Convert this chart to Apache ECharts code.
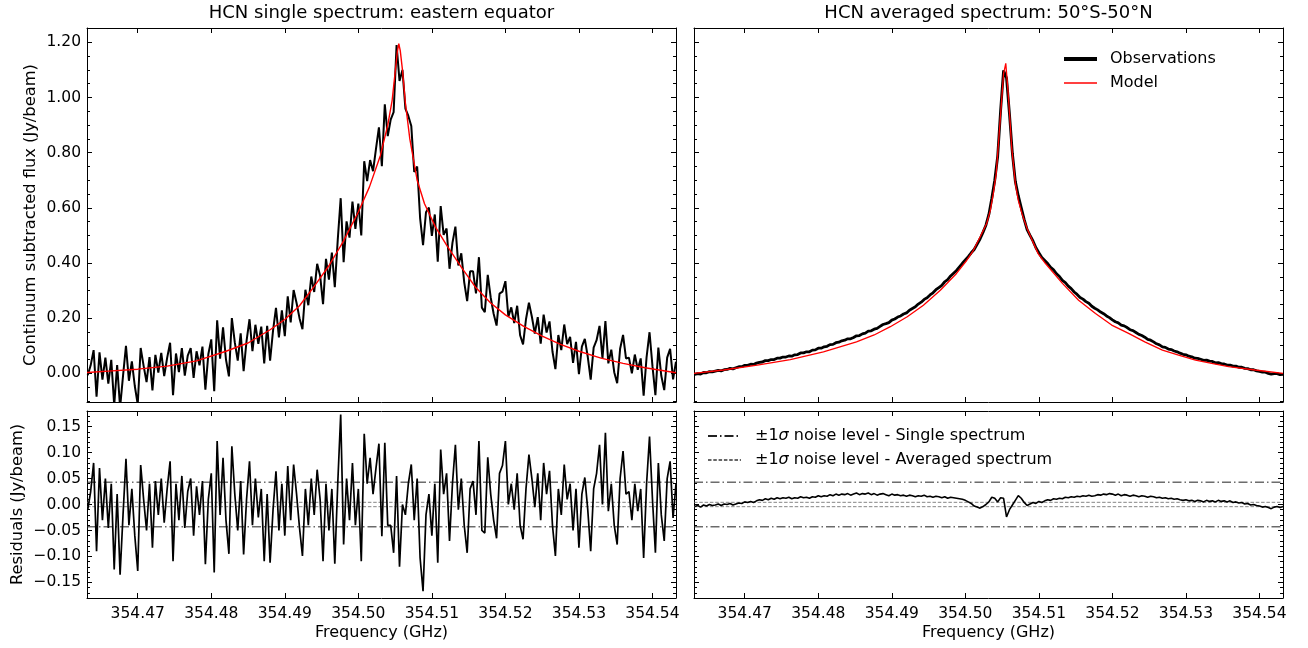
<!DOCTYPE html>
<html>
<head>
<meta charset="utf-8">
<title>HCN spectra</title>
<script src="https://cdn.jsdelivr.net/npm/echarts@6/dist/echarts.min.js"></script>
<style>
  html, body { margin: 0; padding: 0; background: #fff; }
  #chart { width: 1308px; height: 648px; }
</style>
</head>
<body>
<div id="chart"></div>
<script>
// channel grid of the spectra (GHz)
var freqStart = 354.4632;
var freqStep = 0.0004;
var freqMin = 354.4631, freqMax = 354.5432;

// single spectrum, eastern equator (Jy/beam), one value per channel
var singleObs = [
  -0.007, 0.029, 0.084, -0.085, 0.076, -0.023, 0.057, -0.037, 0.049, -0.116,
  0.030, -0.124, -0.009, 0.100, -0.027, 0.043, -0.046, -0.113, 0.092, 0.027,
  -0.032, 0.059, -0.062, 0.067, 0.003, 0.074, -0.010, 0.056, 0.111, -0.079,
  0.072, 0.004, 0.091, -0.008, 0.064, 0.091, -0.017, 0.080, 0.029, 0.097,
  -0.059, 0.069, 0.123, -0.065, 0.192, 0.053, 0.167, 0.050, -0.011, 0.200,
  0.112, 0.046, 0.145, 0.008, 0.118, 0.196, 0.080, 0.176, 0.107, 0.169,
  0.036, 0.172, 0.046, 0.155, 0.237, 0.130, 0.228, 0.135, 0.279, 0.185,
  0.302, 0.255, 0.200, 0.160, 0.303, 0.247, 0.351, 0.295, 0.397, 0.355,
  0.251, 0.415, 0.340, 0.438, 0.312, 0.484, 0.635, 0.403, 0.551, 0.492,
  0.623, 0.524, 0.615, 0.500, 0.769, 0.697, 0.773, 0.733, 0.814, 0.892,
  0.751, 0.975, 0.860, 0.920, 0.947, 1.190, 1.060, 1.100, 0.960, 0.933,
  0.897, 0.730, 0.750, 0.563, 0.465, 0.584, 0.601, 0.498, 0.576, 0.405,
  0.606, 0.502, 0.525, 0.379, 0.473, 0.532, 0.391, 0.435, 0.330, 0.262,
  0.370, 0.370, 0.290, 0.421, 0.238, 0.222, 0.357, 0.275, 0.216, 0.173,
  0.289, 0.296, 0.334, 0.205, 0.239, 0.182, 0.245, 0.138, 0.105, 0.196,
  0.256, 0.205, 0.144, 0.204, 0.108, 0.213, 0.148, 0.188, 0.079, 0.015,
  0.139, 0.084, 0.177, 0.106, 0.132, 0.038, 0.114, -0.003, 0.097, 0.125,
  0.060, -0.023, 0.093, 0.120, 0.172, 0.054, 0.189, 0.036, 0.086, 0.004,
  -0.036, 0.089, 0.139, 0.054, 0.057, 0.000, 0.068, 0.013, 0.054, -0.081,
  0.059, 0.149, 0.026, -0.079, 0.093, -0.009, -0.061, 0.057, 0.089, -0.022,
  0.042
];
var singleResid = [
  -0.010, 0.025, 0.080, -0.090, 0.070, -0.030, 0.050, -0.045, 0.040, -0.125,
  0.020, -0.135, -0.020, 0.088, -0.040, 0.030, -0.060, -0.128, 0.076, 0.010,
  -0.050, 0.040, -0.083, 0.045, -0.020, 0.050, -0.035, 0.030, 0.083, -0.109,
  0.040, -0.030, 0.055, -0.045, 0.025, 0.050, -0.060, 0.035, -0.020, 0.045,
  -0.115, 0.010, 0.060, -0.131, 0.122, -0.020, 0.090, -0.030, -0.095, 0.112,
  0.020, -0.050, 0.045, -0.096, 0.010, 0.083, -0.040, 0.050, -0.025, 0.030,
  -0.109, 0.020, -0.112, -0.010, 0.064, -0.050, 0.040, -0.060, 0.074, -0.030,
  0.077, 0.020, -0.045, -0.099, 0.030, -0.040, 0.050, -0.020, 0.067, 0.010,
  -0.109, 0.040, -0.050, 0.030, -0.114, 0.040, 0.173, -0.077, 0.050, -0.030,
  0.080, -0.040, 0.030, -0.109, 0.136, 0.040, 0.090, 0.020, 0.070, 0.117,
  -0.061, 0.119, -0.040, -0.040, -0.093, 0.055, -0.120, 0.000, -0.020, 0.040,
  0.077, -0.030, 0.050, -0.103, -0.167, -0.020, 0.020, -0.060, 0.040, -0.112,
  0.106, 0.020, 0.060, -0.070, 0.040, 0.115, -0.010, 0.050, -0.040, -0.093,
  0.030, 0.045, -0.020, 0.122, -0.050, -0.055, 0.091, 0.020, -0.030, -0.065,
  0.060, 0.075, 0.122, 0.000, 0.040, -0.010, 0.060, -0.040, -0.067, 0.030,
  0.096, 0.050, -0.005, 0.060, -0.030, 0.080, 0.020, 0.065, -0.040, -0.099,
  0.030, -0.020, 0.077, 0.010, 0.040, -0.050, 0.030, -0.083, 0.020, 0.052,
  -0.010, -0.090, 0.030, 0.060, 0.115, 0.000, 0.138, -0.013, 0.040, -0.040,
  -0.077, 0.050, 0.103, 0.020, 0.025, -0.030, 0.040, -0.013, 0.030, -0.103,
  0.040, 0.131, 0.010, -0.093, 0.080, -0.020, -0.070, 0.050, 0.083, -0.026,
  0.040
];

// averaged spectrum 50S-50N, one value per channel
var avgObs = [
  -0.004, -0.001, -0.003, 0.003, 0.002, 0.006, 0.005, 0.008, 0.011, 0.009,
  0.013, 0.014, 0.018, 0.016, 0.020, 0.024, 0.024, 0.029, 0.029, 0.033,
  0.032, 0.037, 0.040, 0.041, 0.046, 0.046, 0.050, 0.050, 0.055, 0.055,
  0.059, 0.059, 0.063, 0.062, 0.067, 0.068, 0.074, 0.074, 0.078, 0.078,
  0.084, 0.085, 0.091, 0.091, 0.096, 0.098, 0.104, 0.105, 0.111, 0.113,
  0.118, 0.120, 0.125, 0.125, 0.130, 0.136, 0.137, 0.143, 0.146, 0.153,
  0.154, 0.160, 0.163, 0.170, 0.177, 0.180, 0.184, 0.193, 0.197, 0.204,
  0.208, 0.215, 0.219, 0.229, 0.235, 0.241, 0.251, 0.258, 0.268, 0.274,
  0.284, 0.292, 0.303, 0.311, 0.319, 0.332, 0.340, 0.353, 0.363, 0.373,
  0.386, 0.399, 0.411, 0.423, 0.437, 0.449, 0.468, 0.487, 0.511, 0.537,
  0.576, 0.635, 0.700, 0.787, 0.954, 1.098, 1.071, 0.941, 0.797, 0.696,
  0.644, 0.601, 0.558, 0.521, 0.500, 0.480, 0.455, 0.437, 0.420, 0.409,
  0.398, 0.384, 0.375, 0.361, 0.351, 0.337, 0.329, 0.316, 0.307, 0.295,
  0.286, 0.275, 0.269, 0.260, 0.254, 0.243, 0.236, 0.230, 0.222, 0.216,
  0.208, 0.202, 0.194, 0.187, 0.183, 0.175, 0.172, 0.166, 0.158, 0.155,
  0.148, 0.141, 0.137, 0.131, 0.123, 0.120, 0.114, 0.107, 0.103, 0.096,
  0.094, 0.088, 0.086, 0.081, 0.078, 0.073, 0.069, 0.067, 0.062, 0.060,
  0.055, 0.054, 0.051, 0.047, 0.048, 0.044, 0.043, 0.038, 0.039, 0.035,
  0.034, 0.030, 0.030, 0.026, 0.026, 0.022, 0.022, 0.018, 0.017, 0.013,
  0.013, 0.009, 0.007, 0.004, 0.004, 0.000, -0.003, -0.001, -0.001, -0.005,
  -0.004
];
var avgResid = [
  -0.004, -0.002, -0.005, -0.001, -0.003, 0.000, -0.002, -0.001, 0.001, -0.002,
  0.001, 0.000, 0.002, -0.001, 0.001, 0.003, 0.002, 0.005, 0.004, 0.006,
  0.004, 0.007, 0.009, 0.008, 0.011, 0.009, 0.012, 0.010, 0.013, 0.011,
  0.013, 0.012, 0.014, 0.011, 0.013, 0.012, 0.015, 0.013, 0.014, 0.012,
  0.015, 0.014, 0.017, 0.015, 0.017, 0.016, 0.019, 0.017, 0.020, 0.018,
  0.020, 0.019, 0.021, 0.018, 0.020, 0.022, 0.019, 0.021, 0.020, 0.022,
  0.019, 0.021, 0.018, 0.020, 0.021, 0.019, 0.017, 0.020, 0.018, 0.019,
  0.017, 0.018, 0.016, 0.018, 0.017, 0.015, 0.017, 0.016, 0.018, 0.015,
  0.016, 0.014, 0.016, 0.015, 0.013, 0.015, 0.012, 0.014, 0.013, 0.012,
  0.011, 0.010, 0.008, 0.005, 0.002, -0.003, -0.005, -0.007, -0.004, 0.000,
  0.005, 0.014, 0.012, 0.005, 0.013, 0.012, -0.024, -0.010, -0.001, 0.008,
  0.017, 0.012, 0.004, -0.002, 0.001, 0.004, 0.002, 0.006, 0.004, 0.007,
  0.009, 0.008, 0.011, 0.010, 0.012, 0.011, 0.014, 0.013, 0.015, 0.014,
  0.016, 0.015, 0.017, 0.016, 0.018, 0.016, 0.017, 0.019, 0.018, 0.020,
  0.019, 0.021, 0.020, 0.018, 0.020, 0.017, 0.019, 0.018, 0.016, 0.018,
  0.017, 0.015, 0.017, 0.016, 0.014, 0.016, 0.015, 0.013, 0.014, 0.012,
  0.013, 0.011, 0.012, 0.010, 0.011, 0.009, 0.008, 0.009, 0.007, 0.008,
  0.006, 0.008, 0.007, 0.005, 0.008, 0.006, 0.007, 0.005, 0.008, 0.006,
  0.007, 0.005, 0.007, 0.004, 0.005, 0.003, 0.004, 0.001, 0.002, -0.001,
  0.000, -0.002, -0.003, -0.005, -0.004, -0.006, -0.008, -0.005, -0.004, -0.006,
  -0.004
];

// model curves, sampled where they were read
var singleModelFreq = [
  354.4631, 354.4660, 354.4700, 354.4740, 354.4780, 354.4820, 354.4850, 354.4880,
  354.4900, 354.4920, 354.4940, 354.4960, 354.4980, 354.5000, 354.5015, 354.5030,
  354.5040, 354.5046, 354.5050, 354.5053, 354.5055, 354.5057, 354.5060, 354.5064,
  354.5070, 354.5080, 354.5090, 354.5105, 354.5120, 354.5140, 354.5160, 354.5180,
  354.5200, 354.5225, 354.5250, 354.5275, 354.5300, 354.5330, 354.5360, 354.5390,
  354.5432
];
var singleModel = [
  0.003, 0.008, 0.015, 0.026, 0.045, 0.080, 0.110, 0.158,
  0.195, 0.245, 0.315, 0.390, 0.480, 0.585, 0.675, 0.790,
  0.900, 0.990, 1.090, 1.165, 1.195, 1.170, 1.100, 0.980,
  0.850, 0.700, 0.615, 0.530, 0.465, 0.385, 0.310, 0.255,
  0.212, 0.170, 0.135, 0.105, 0.080, 0.055, 0.036, 0.020,
  0.002
];
var avgModelFreq = [
  354.4631, 354.4671, 354.4717, 354.4762, 354.4807, 354.4852, 354.4876, 354.4898,
  354.4921, 354.4943, 354.4966, 354.4988, 354.5002, 354.5011, 354.5020, 354.5029,
  354.5034, 354.5038, 354.5042, 354.5047, 354.5052, 354.5055, 354.5058, 354.5061,
  354.5063, 354.5068, 354.5072, 354.5077, 354.5084, 354.5091, 354.5099, 354.5109,
  354.5132, 354.5154, 354.5177, 354.5199, 354.5222, 354.5244, 354.5268, 354.5290,
  354.5313, 354.5335, 354.5358, 354.5394, 354.5432
];
var avgModel = [
  0.000, 0.012, 0.030, 0.050, 0.078, 0.114, 0.139, 0.169,
  0.205, 0.247, 0.301, 0.362, 0.410, 0.446, 0.494, 0.543,
  0.591, 0.651, 0.724, 0.905, 1.086, 1.124, 1.025, 0.905,
  0.820, 0.688, 0.627, 0.579, 0.525, 0.482, 0.434, 0.398,
  0.326, 0.265, 0.217, 0.175, 0.145, 0.114, 0.084, 0.066,
  0.048, 0.036, 0.024, 0.012, 0.000
];

// 1 sigma noise levels
var sigmaSingle = 0.043;
var sigmaAvg = 0.0042;

// ticks
var freqTicks = [354.47, 354.48, 354.49, 354.50, 354.51, 354.52, 354.53, 354.54];
var fluxTicks = [0, 0.2, 0.4, 0.6, 0.8, 1.0, 1.2];
var fluxMinorTicks = [-0.10, -0.05, 0.05, 0.10, 0.15, 0.25, 0.30, 0.35, 0.45, 0.50, 0.55,
  0.65, 0.70, 0.75, 0.85, 0.90, 0.95, 1.05, 1.10, 1.15, 1.25];
var residTicks = [-0.15, -0.10, -0.05, 0, 0.05, 0.10, 0.15];
var residMinorTicks = [];
for (var k = -17; k <= 17; k++) {
  if (k % 5 !== 0) residMinorTicks.push(k / 100);
}

var nameSingle = '±1σ noise level - Single spectrum';
var nameAvg = '±1σ noise level - Averaged spectrum';
var FONT = 'DejaVu Sans';

function channels(values) {
  return values.map(function (v, i) { return [freqStart + i * freqStep, v]; });
}
function pairs(freqs, values) {
  return freqs.map(function (f, i) { return [f, values[i]]; });
}
function fmt(v) {
  return (v < -1e-9 ? '\u2212' : '') + Math.abs(v).toFixed(2);
}

var myChart = echarts.init(document.getElementById('chart'), null, { renderer: 'canvas' });

// 0: top left, 1: bottom left, 2: top right, 3: bottom right
var grids = [
  { left: 87, top: 28, width: 589, height: 374 },
  { left: 87, top: 411, width: 589, height: 187 },
  { left: 694, top: 28, width: 589, height: 374 },
  { left: 694, top: 411, width: 589, height: 187 }
];

var xAxes = [];
var yAxes = [];
grids.forEach(function (g, gi) {
  var isBottom = (gi === 1 || gi === 3);
  var isLeft = (gi === 0 || gi === 1);
  var ymin = isBottom ? -0.18 : -0.104;
  var ymax = isBottom ? 0.18 : 1.252;
  var major = isBottom ? residTicks : fluxTicks;
  var minor = isBottom ? residMinorTicks : fluxMinorTicks;
  ['bottom', 'top'].forEach(function (pos) {
    xAxes.push({
      type: 'value', gridIndex: gi, position: pos, min: freqMin, max: freqMax,
      axisLine: { show: true, onZero: false, lineStyle: { color: '#000', width: 1 } },
      axisTick: { show: true, inside: true, length: 5, customValues: freqTicks, lineStyle: { color: '#000' } },
      axisLabel: {
        show: isBottom && pos === 'bottom', customValues: freqTicks, margin: 8,
        formatter: function (v) { return v.toFixed(2); },
        color: '#000', fontSize: 15.5, fontFamily: FONT
      },
      splitLine: { show: false },
      name: (isBottom && pos === 'bottom') ? 'Frequency (GHz)' : '',
      nameLocation: 'middle', nameGap: 27,
      nameTextStyle: { color: '#000', fontSize: 16, fontFamily: FONT }
    });
  });
  ['left', 'right'].forEach(function (pos) {
    var showLab = isLeft && pos === 'left';
    yAxes.push({
      type: 'value', gridIndex: gi, position: pos, min: ymin, max: ymax,
      axisLine: { show: true, onZero: false, lineStyle: { color: '#000', width: 1 } },
      axisTick: { show: true, inside: true, length: 5, customValues: major, lineStyle: { color: '#000' } },
      axisLabel: {
        show: showLab, customValues: major, margin: 6, formatter: fmt,
        color: '#000', fontSize: 15.5, fontFamily: FONT
      },
      splitLine: { show: false },
      name: showLab ? (isBottom ? 'Residuals (Jy/beam)' : 'Continuum subtracted flux (Jy/beam)') : '',
      nameLocation: 'middle', nameGap: isBottom ? 61 : 48,
      nameTextStyle: { color: '#000', fontSize: 16.3, fontFamily: FONT }
    });
    yAxes.push({
      type: 'value', gridIndex: gi, position: pos, min: ymin, max: ymax,
      axisLine: { show: false },
      axisTick: { show: true, inside: true, length: 3, customValues: minor, lineStyle: { color: '#000' } },
      axisLabel: { show: false },
      splitLine: { show: false }
    });
  });
});

function lineSeries(name, gi, data, color, width, z) {
  return {
    name: name, type: 'line', xAxisIndex: gi * 2, yAxisIndex: gi * 4,
    data: data, symbol: 'none', showSymbol: false, clip: true, z: z || 2,
    lineStyle: { color: color, width: width },
    itemStyle: { color: color },
    emphasis: { disabled: true }
  };
}

var series = [
  lineSeries('Observations', 2, channels(avgObs), '#000', 2.8, 3),
  lineSeries('Model', 2, pairs(avgModelFreq, avgModel), '#ff0000', 1.3, 4),
  lineSeries('Observations', 0, channels(singleObs), '#000', 2.0, 3),
  lineSeries('Model', 0, pairs(singleModelFreq, singleModel), '#ff0000', 1.4, 4),
  lineSeries('Residuals single', 1, channels(singleResid), '#000', 1.7, 3),
  lineSeries('Residuals averaged', 3, channels(avgResid), '#000', 1.6, 3)
];

[1, 3].forEach(function (gi) {
  [sigmaSingle, -sigmaSingle].forEach(function (s) {
    var sr = lineSeries(nameSingle, gi, [[freqMin, s], [freqMax, s]], '#222', 1, 2);
    sr.lineStyle.type = [9, 3, 1.5, 3];
    series.push(sr);
  });
  [sigmaAvg, -sigmaAvg].forEach(function (s) {
    var sr = lineSeries(nameAvg, gi, [[freqMin, s], [freqMax, s]], '#666', 0.8, 2);
    sr.lineStyle.type = [3.5, 1.8];
    series.push(sr);
  });
});

var legendText = {
  color: '#000', fontSize: 16, fontFamily: FONT, padding: [0, 0, 0, 8],
  rich: { i: { fontStyle: 'italic', fontSize: 16, fontFamily: FONT, color: '#000' } }
};

var option = {
  animation: false,
  backgroundColor: '#fff',
  grid: grids,
  xAxis: xAxes,
  yAxis: yAxes,
  legend: [
    {
      data: [
        { name: 'Observations', lineStyle: { width: 4, color: '#000' } },
        { name: 'Model', lineStyle: { width: 1.5, color: '#ff0000' } }
      ],
      orient: 'vertical', left: 1062, top: 51,
      padding: 0, itemWidth: 33, itemHeight: 14, itemGap: 8,
      itemStyle: { opacity: 0 },
      selectedMode: false, textStyle: legendText
    },
    {
      data: [nameSingle, nameAvg], orient: 'vertical', left: 707, top: 428,
      padding: 0, itemWidth: 33, itemHeight: 14, itemGap: 8,
      itemStyle: { opacity: 0 },
      selectedMode: false,
      formatter: function (name) { return name.replace('σ', '{i|σ}'); },
      textStyle: Object.assign({}, legendText, { padding: [0, 0, 0, 9] })
    }
  ],
  graphic: [
    {
      type: 'text', x: 381.5, y: 13,
      style: { text: 'HCN single spectrum: eastern equator', font: '18px "DejaVu Sans"', fill: '#000',
        align: 'center', verticalAlign: 'middle', textAlign: 'center', textVerticalAlign: 'middle' }
    },
    {
      type: 'text', x: 988.5, y: 13,
      style: { text: 'HCN averaged spectrum: 50°S-50°N', font: '18px "DejaVu Sans"', fill: '#000',
        align: 'center', verticalAlign: 'middle', textAlign: 'center', textVerticalAlign: 'middle' }
    }
  ],
  series: series
};

myChart.setOption(option);
</script>
</body>
</html>
